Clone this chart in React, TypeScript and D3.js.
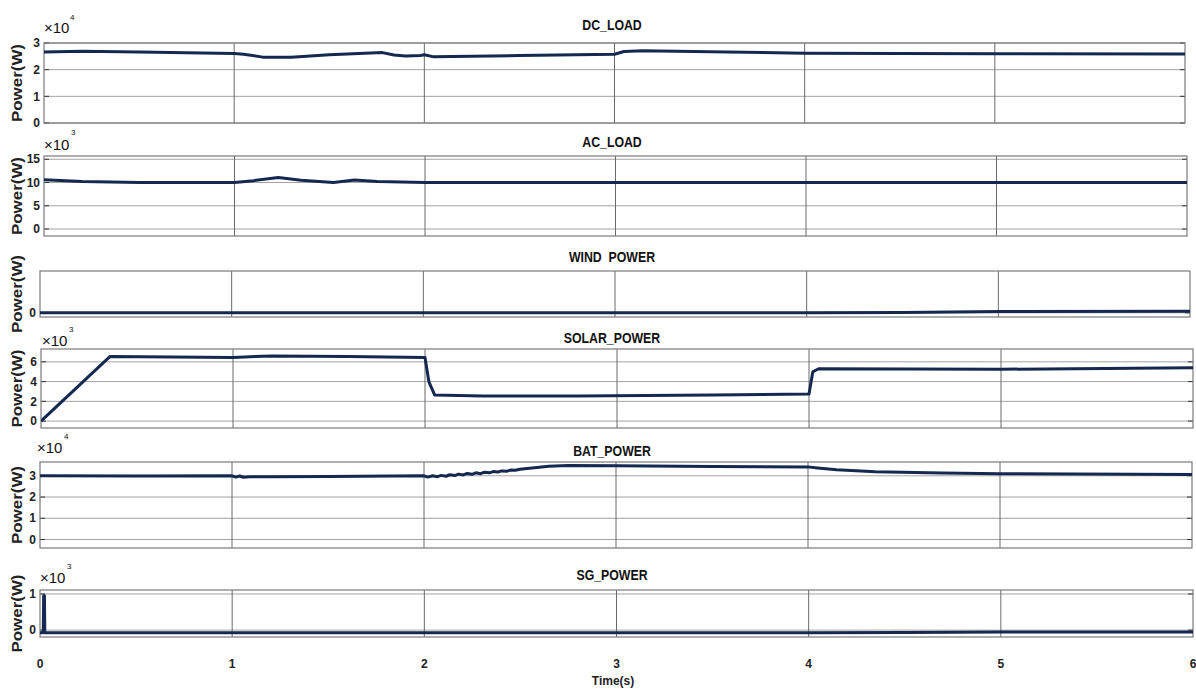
import React from 'react';
import * as d3 from 'd3';

// ---------- data ----------
const timeTicks = [0, 1, 2, 3, 4, 5, 6];

const dcT = [0, 0.2, 0.5, 1.0, 1.05, 1.15, 1.3, 1.5, 1.78, 1.84, 1.9, 1.98, 2.0, 2.05, 2.5, 3.0, 3.05, 3.15, 3.5, 4.0, 5.0, 6.0];
const dcV = [2.66, 2.69, 2.66, 2.61, 2.58, 2.47, 2.47, 2.56, 2.64, 2.55, 2.51, 2.53, 2.56, 2.48, 2.53, 2.58, 2.68, 2.71, 2.67, 2.62, 2.6, 2.59];

const acT = [0, 0.2, 0.5, 1.0, 1.1, 1.23, 1.35, 1.52, 1.63, 1.75, 2.0, 3.0, 4.0, 5.0, 6.0];
const acV = [10.6, 10.2, 10.0, 10.0, 10.4, 11.1, 10.5, 10.0, 10.55, 10.2, 10.0, 10.0, 10.0, 10.0, 10.0];

const windT = [0, 1, 2, 3, 4, 4.5, 5, 6];
const windV = [0, 0, 0, 0, 0, 0.01, 0.03, 0.04];

const solarT = [0, 0.36, 1.0, 1.2, 1.6, 2.0, 2.02, 2.05, 2.3, 2.8, 3.5, 4.0, 4.02, 4.05, 5.0, 6.0];
const solarV = [0.0, 6.55, 6.45, 6.6, 6.55, 6.45, 4.0, 2.65, 2.55, 2.55, 2.65, 2.75, 5.0, 5.3, 5.25, 5.4];

const batT = [0, 0.5, 1.0, 1.02, 1.04, 1.06, 1.09, 1.2, 1.5, 2.0, 2.02, 2.045, 2.07, 2.09, 2.115, 2.135, 2.16, 2.18, 2.205, 2.225, 2.25, 2.27, 2.295, 2.315, 2.34, 2.36, 2.385, 2.405, 2.43, 2.45, 2.475, 2.5, 2.55, 2.65, 2.75, 3.0, 3.5, 4.0, 4.05, 4.15, 4.35, 4.7, 5.0, 6.0];
const batV = [3.0, 2.99, 3.0, 2.94, 2.99, 2.93, 2.95, 2.96, 2.97, 3.0, 2.94, 3.0, 2.96, 3.02, 2.98, 3.05, 3.01, 3.08, 3.04, 3.11, 3.07, 3.14, 3.1, 3.17, 3.14, 3.2, 3.18, 3.23, 3.21, 3.27, 3.26, 3.31, 3.36, 3.45, 3.48, 3.47, 3.44, 3.42, 3.37, 3.28, 3.19, 3.13, 3.1, 3.06];

const sgT = [0, 0.017, 0.019, 0.023, 0.025, 1, 2, 3, 4, 4.5, 5, 6];
const sgV = [-0.07, -0.07, 0.95, 0.95, -0.07, -0.075, -0.075, -0.075, -0.075, -0.065, -0.05, -0.05];

const titles = ['DC_LOAD', 'AC_LOAD', 'WIND  POWER', 'SOLAR_POWER', 'BAT_POWER', 'SG_POWER'];
const seriesT = [dcT, acT, windT, solarT, batT, sgT];
const seriesV = [dcV, acV, windV, solarV, batV, sgV];
const yTicks = [[0, 1, 2, 3], [0, 5, 10, 15], [0], [0, 2, 4, 6], [0, 1, 2, 3], [0, 1]];
const yDomains = [[0, 3], [-1.5, 15.7], [-0.1, 1.0], [-0.7, 7.3], [-0.4, 3.65], [-0.19, 1.11]];
const exponents = ['4', '3', '', '3', '4', '3'];

// ---------- layout ----------
const layout = [
  { top: 43, bottom: 123, left: 44, right: 1185, titleY: 30, expX: 44, expY: 33, supX: 70, supY: 20 },
  { top: 156, bottom: 236, left: 44, right: 1187, titleY: 147, expX: 44, expY: 150, supX: 71, supY: 135 },
  { top: 271, bottom: 317, left: 40, right: 1190, titleY: 262, expX: 0, expY: 0, supX: 0, supY: 0 },
  { top: 349, bottom: 428, left: 41, right: 1193, titleY: 343, expX: 42, expY: 346, supX: 69, supY: 332 },
  { top: 462, bottom: 548, left: 40, right: 1192, titleY: 456, expX: 37, expY: 453, supX: 64, supY: 439 },
  { top: 590, bottom: 637, left: 40, right: 1193, titleY: 580, expX: 40, expY: 583, supX: 67, supY: 569 },
];

const LINE = '#15284f';
const FONT = "'Liberation Sans', Arial, sans-serif";

export default function App() {
  const last = layout[layout.length - 1];
  const xBottom = d3.scaleLinear().domain([0, 6]).range([last.left, last.right]);
  return (
    <svg width={1196} height={691} style={{ position: 'absolute', left: 0, top: 0, background: '#fff' }} fontFamily={FONT}>
      <rect x={0} y={0} width={1196} height={691} fill="#fff" />
      {layout.map((L, i) => {
        const x = d3.scaleLinear().domain([0, 6]).range([L.left, L.right]);
        const y = d3.scaleLinear().domain(yDomains[i]).range([L.bottom, L.top]);
        const ts = seriesT[i];
        const line = d3.line<number>().x((_, j) => x(ts[j])).y((d) => y(d));
        const cy = (L.top + L.bottom) / 2;
        return (
          <g key={i}>
            <defs>
              <clipPath id={`clip${i}`}>
                <rect x={L.left} y={L.top} width={L.right - L.left} height={L.bottom - L.top} />
              </clipPath>
            </defs>
            {yTicks[i].map((t) => (
              <g key={'h' + t}>
                <line x1={L.left} x2={L.right} y1={y(t)} y2={y(t)} stroke="#a3a3a3" strokeWidth={1} />
                <line x1={L.left} x2={L.left + 5} y1={y(t)} y2={y(t)} stroke="#333" strokeWidth={1} />
                <line x1={L.right - 5} x2={L.right} y1={y(t)} y2={y(t)} stroke="#333" strokeWidth={1} />
                <text x={L.left - 4} y={y(t)} dy="0.35em" textAnchor="end" fontSize={12} fontWeight="bold" fill="#222">
                  {t}
                </text>
              </g>
            ))}
            {timeTicks.slice(1, -1).map((t) => (
              <line key={'v' + t} x1={x(t)} x2={x(t)} y1={L.top} y2={L.bottom} stroke="#6a6a6a" strokeWidth={1} />
            ))}
            <rect x={L.left} y={L.top} width={L.right - L.left} height={L.bottom - L.top} fill="none" stroke="#7a7a7a" strokeWidth={1.2} />
            <path d={line(seriesV[i]) || ''} fill="none" stroke={LINE} strokeWidth={3} strokeLinejoin="round" clipPath={`url(#clip${i})`} />
            <text transform={`translate(612,${L.titleY}) scale(0.88,1)`} textAnchor="middle" fontWeight="bold" fontSize={14} fill="#111" style={{ whiteSpace: 'pre' }}>
              {titles[i]}
            </text>
            {exponents[i] && (
              <g fill="#111">
                <text x={L.expX} y={L.expY} fontSize={15}>×10</text>
                <text x={L.supX} y={L.supY} fontSize={8}>{exponents[i]}</text>
              </g>
            )}
            <text transform={`translate(22,${cy}) rotate(-90)`} textAnchor="middle" fontWeight="bold" fontSize={14} fill="#222" textLength={78} lengthAdjust="spacingAndGlyphs">
              Power(W)
            </text>
          </g>
        );
      })}
      {timeTicks.map((t) => (
        <text key={'xt' + t} x={xBottom(t)} y={668} textAnchor="middle" fontSize={12} fontWeight="bold" fill="#222">
          {t}
        </text>
      ))}
      <text x={613} y={685} textAnchor="middle" fontSize={12} fontWeight="bold" fill="#222">Time(s)</text>
    </svg>
  );
}
